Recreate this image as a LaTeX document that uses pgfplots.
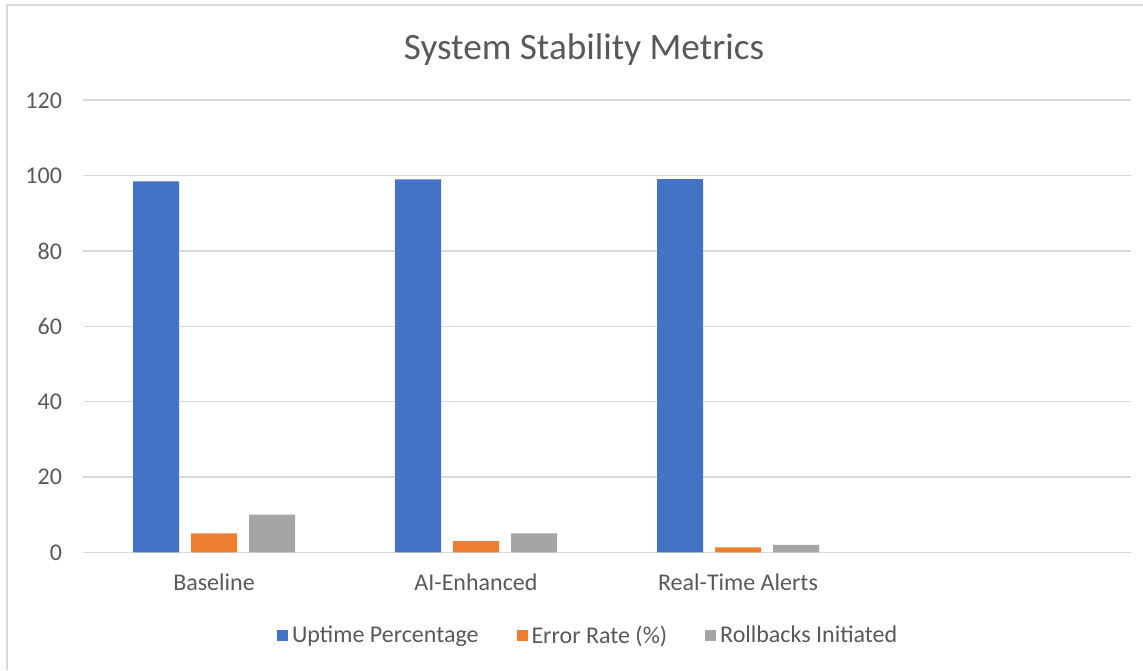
\documentclass[border=0pt]{standalone}
\usepackage{fontspec}
\setmainfont{Carlito}
\usepackage{pgfplots}
\pgfplotsset{compat=1.18}
\definecolor{cblue}{HTML}{4472C4}
\definecolor{corange}{HTML}{ED7D31}
\definecolor{cgray}{HTML}{A5A5A5}
\definecolor{gridgray}{HTML}{D9D9D9}
\definecolor{textgray}{HTML}{595959}
\begin{document}
\begin{tikzpicture}[x=1pt,y=1pt]
\useasboundingbox (0,0) rectangle (571.5,335);
\fill[white] (0,0) rectangle (571.5,335);
\draw[gridgray, line width=1.2pt] (3.5,0) -- (3.5,332.5) -- (571.5,332.5);
\node[text=textgray, font=\fontsize{18.6}{22}\selectfont] at (292,310) {System Stability Metrics};
\begin{axis}[
  at={(41.5pt,58.85pt)}, anchor=south west,
  scale only axis, width=524pt, height=226pt,
  xmin=-0.5, xmax=3.5, ymin=0, ymax=120,
  ytick={0,20,...,120},
  xtick={0,1,2}, xticklabels={Baseline,AI-Enhanced,Real-Time Alerts},
  major tick length=0pt,
  axis line style={draw=none},
  ymajorgrids, grid style={gridgray, line width=0.8pt},
  ybar=6pt, bar width=23pt,
  /pgf/number format/assume math mode=true,
  tick label style={text=textgray, font=\fontsize{12}{14}\selectfont},
  yticklabel style={xshift=-7pt},
  xticklabel style={yshift=-7pt},
  legend image code/.code={\fill[#1] (-1.5pt,-2.75pt) rectangle (4pt,2.75pt);},
  legend style={draw=none, fill=none, legend columns=3, at={(0.483,-0.185)}, anchor=center,
    font=\fontsize{12}{14}\selectfont, text=textgray,
    /tikz/every even column/.append style={column sep=17pt}},
]
\addplot[fill=cblue, draw=none] coordinates {(0,98.5) (1,99.0) (2,99.1)};
\addplot[fill=corange, draw=none] coordinates {(0,5) (1,3) (2,1.3)};
\addplot[fill=cgray, draw=none] coordinates {(0,10) (1,5) (2,2)};
\legend{Uptime Percentage,Error Rate (\%),Rollbacks Initiated}
\end{axis}
\end{tikzpicture}
\end{document}
